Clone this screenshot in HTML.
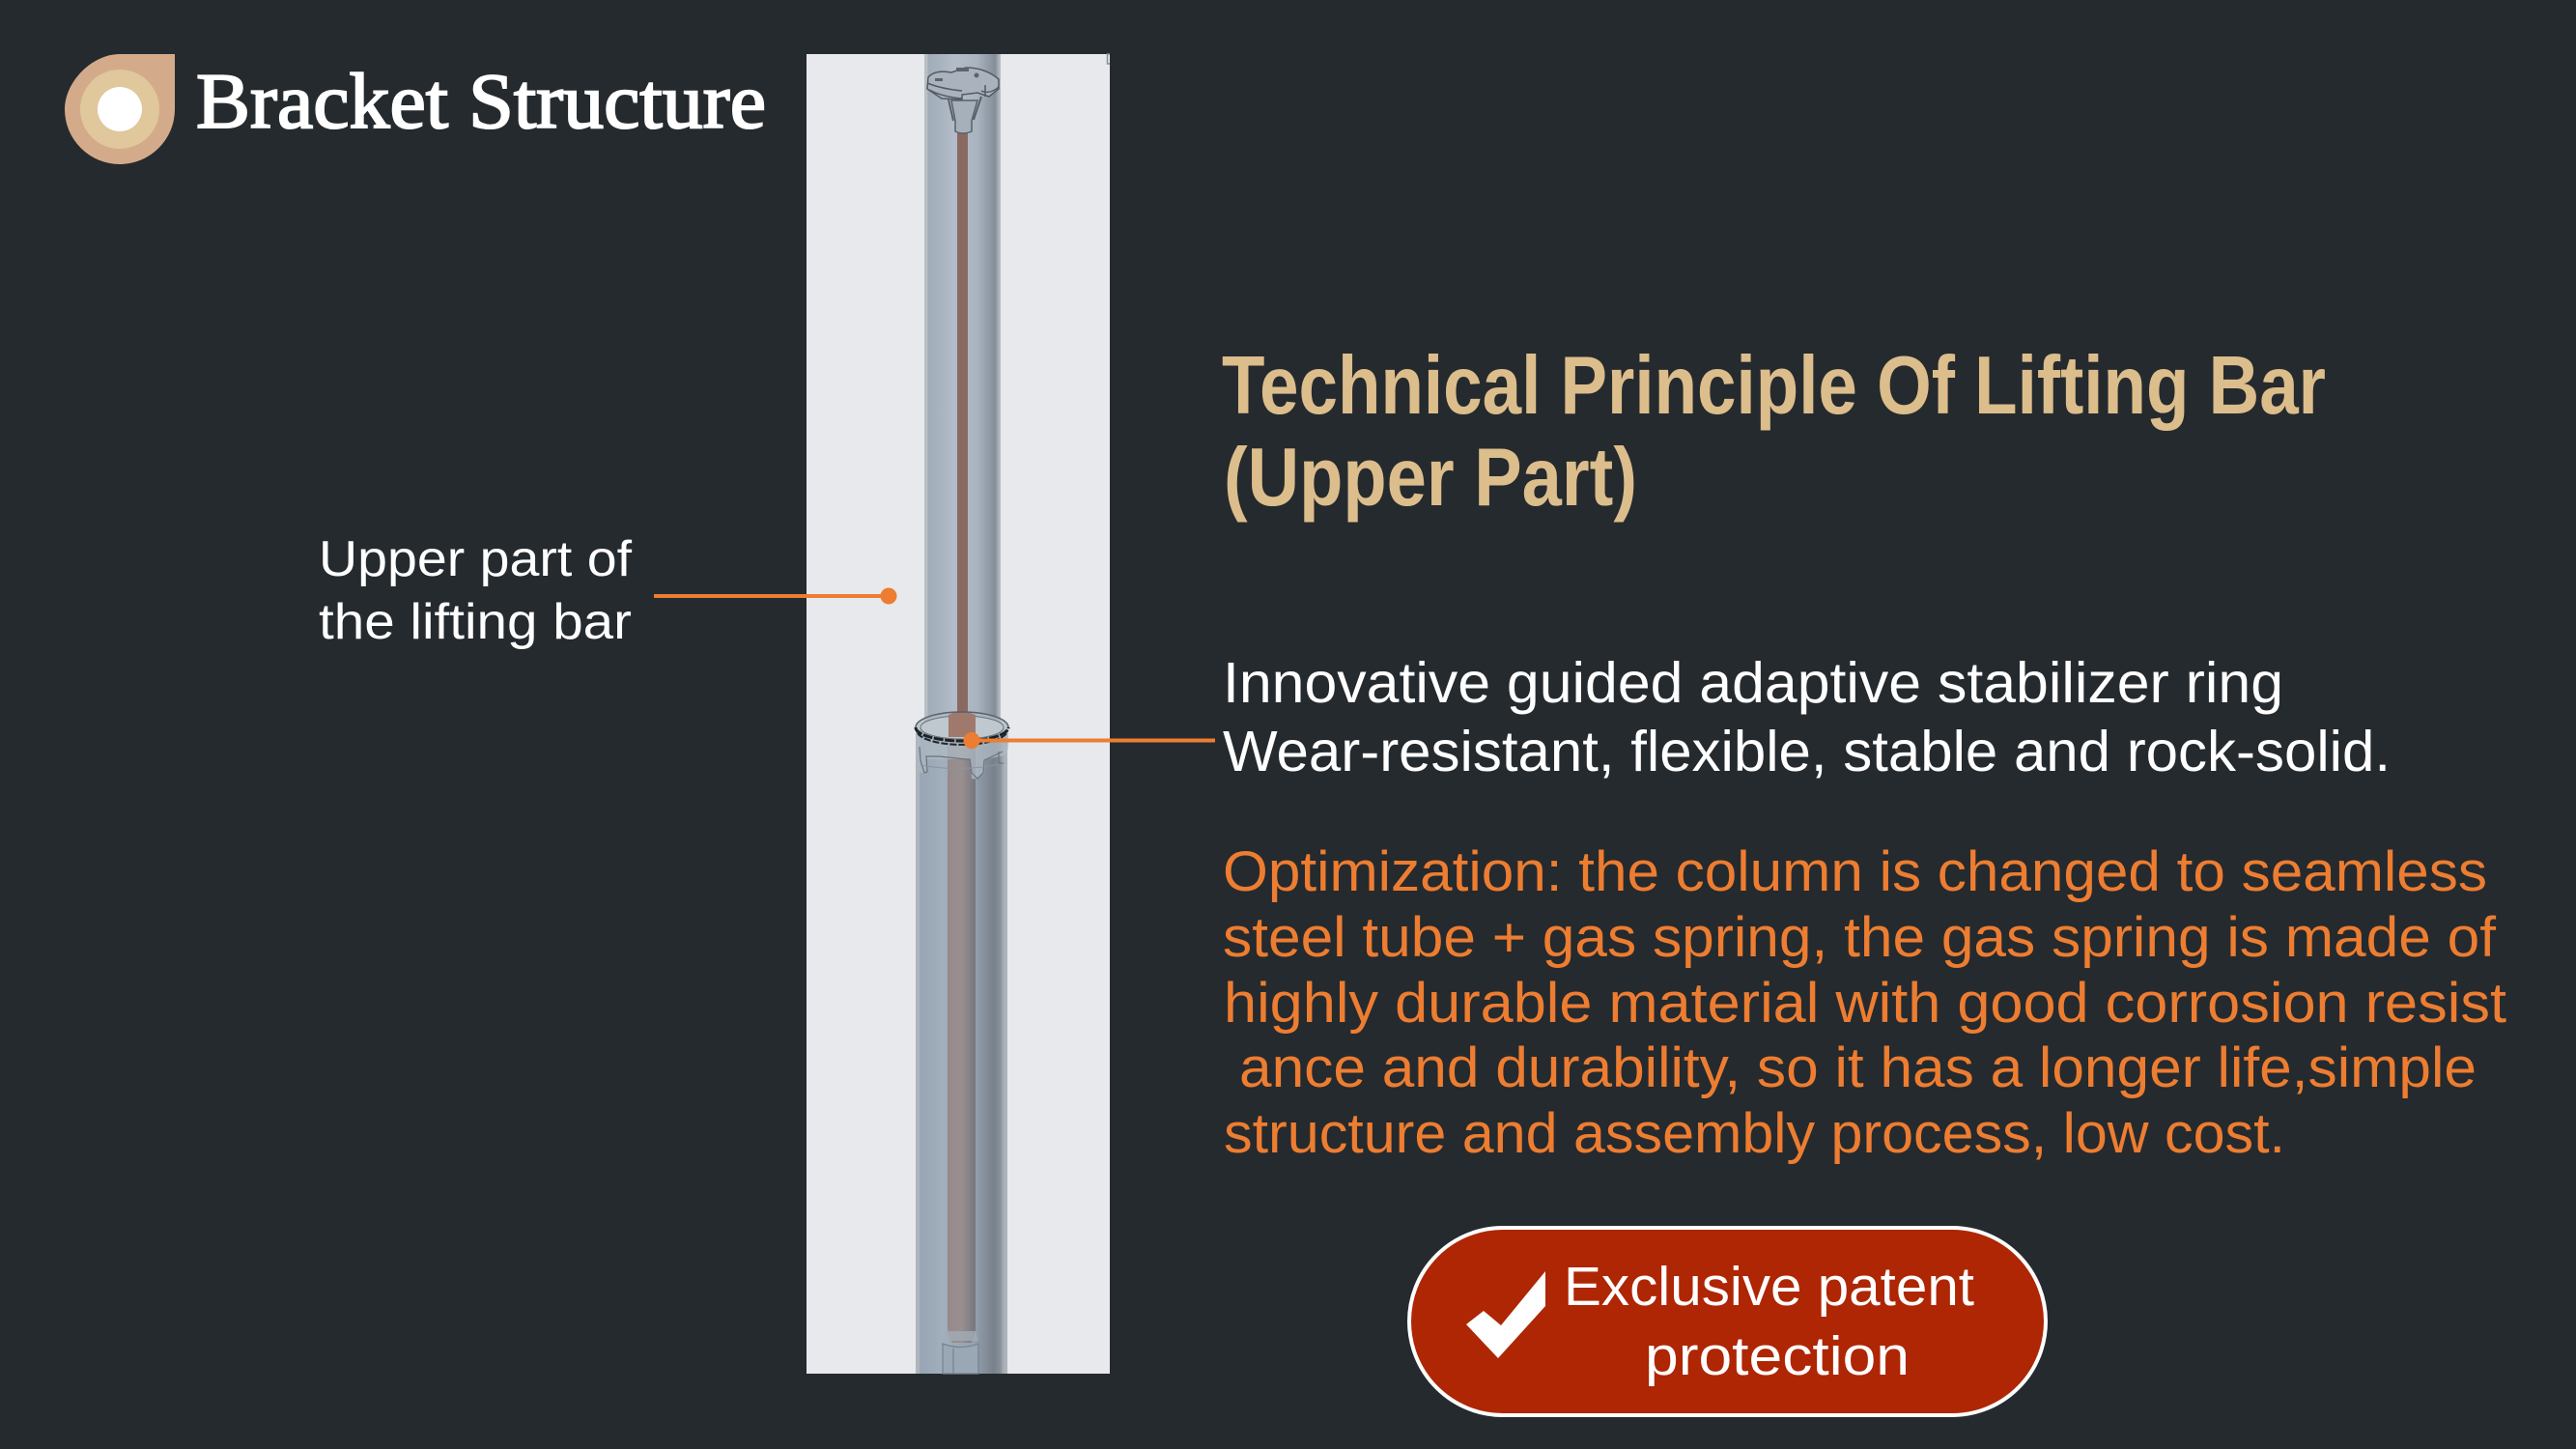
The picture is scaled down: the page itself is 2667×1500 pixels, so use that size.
<!DOCTYPE html>
<html><head><meta charset="utf-8"><style>html,body{margin:0;padding:0;background:#252a2e;width:2667px;height:1500px;overflow:hidden}svg{display:block}text{font-family:"Liberation Sans",sans-serif}</style></head>
<body>
<svg width="2667" height="1500" viewBox="0 0 2667 1500" xmlns="http://www.w3.org/2000/svg">
<defs>
<linearGradient id="u" x1="0" x2="1" y1="0" y2="0"><stop offset="0" stop-color="#b9bfc4"/><stop offset=".04" stop-color="#b9bfc4"/><stop offset=".05" stop-color="#a0acb8"/><stop offset=".4" stop-color="#b2bdc9"/><stop offset=".7" stop-color="#a9b3bf"/><stop offset=".93" stop-color="#848d98"/><stop offset=".96" stop-color="#a0a7af"/><stop offset="1" stop-color="#bcc1c6"/></linearGradient>
<linearGradient id="l" x1="0" x2="1" y1="0" y2="0"><stop offset="0" stop-color="#aeb5bb"/><stop offset=".04" stop-color="#aeb5bb"/><stop offset=".05" stop-color="#97a5b4"/><stop offset=".3" stop-color="#a2afbd"/><stop offset=".65" stop-color="#949fad"/><stop offset=".85" stop-color="#78808b"/><stop offset=".92" stop-color="#868f9a"/><stop offset=".96" stop-color="#a8afb5"/><stop offset="1" stop-color="#b0b6bb"/></linearGradient>
<linearGradient id="r" x1="0" x2="1" y1="0" y2="0"><stop offset="0" stop-color="#98898c"/><stop offset=".5" stop-color="#98908f"/><stop offset="1" stop-color="#777680"/></linearGradient>
</defs>
<rect width="2667" height="1500" fill="#252a2e"/>

<!-- logo -->
<path d="M124 56H181V113A57 57 0 0 1 67 113C67 85 95 56 124 56Z" fill="#d4ab8a"/>
<circle cx="124" cy="113" r="41" fill="#e0c79c"/>
<circle cx="124" cy="113" r="23" fill="#fff"/>
<text x="203" y="132" font-size="82" fill="#fff" stroke="#fff" stroke-width="2" style="font-family:'Liberation Serif',serif" textLength="590" lengthAdjust="spacingAndGlyphs">Bracket Structure</text>

<!-- panel -->
<rect x="835" y="56" width="314" height="1366" fill="#e7e9ed"/>
<path d="M1149 56H1146.500V66H1149" fill="none" stroke="#8a8f94" stroke-width="1.500"/>

<!-- upper tube -->
<rect x="957" y="56" width="79" height="700" fill="url(#u)"/>
<rect x="991" y="135" width="11" height="605" fill="#8a6a60"/>
<!-- head -->
<path d="M985 104L989 125V136Q997 140 1006 136V125L1012 104Z" fill="#a6b0bb" stroke="#59616a" stroke-width="1.500"/>
<path d="M982 103L987 125M1016 100L1008 124" stroke="#59616a" stroke-width="2" fill="none"/>
<path d="M961 80Q968 72 985 75L1000 70Q1020 70 1034 82V92L1024 100L1012 96L996 98V103L975 102L960 92Z" fill="#aab3bd" stroke="#535a63" stroke-width="1.500"/>
<path d="M960 86Q975 92 996 94M962 93Q975 100 996 102M1016 94Q1025 98 1034 90M1020 88V100" stroke="#535a63" stroke-width="1.500" fill="none"/>
<rect x="968" y="81" width="8" height="3" fill="#5d646c"/>
<rect x="990" y="70" width="13" height="4" fill="#5d646c"/>
<circle cx="1011" cy="78" r="2.500" fill="#5d646c"/>

<!-- lower tube -->
<rect x="948" y="755" width="95" height="667" fill="url(#l)"/>
<path d="M981 745H1010V1375Q1010 1385 1005 1390H986Q981 1385 981 1375Z" fill="url(#r)"/>
<!-- bottom fitting -->
<path d="M976 1391Q995 1398 1013 1391V1422H976Z" fill="#9aa8b6" stroke="#76828f" stroke-width="1.200"/>
<path d="M987 1396V1422" stroke="#76828f" stroke-width="1.200"/>
<path d="M979 1378L976 1388H1013L1010 1378" fill="#a3acb5" opacity=".8"/>

<!-- collar -->
<path d="M948 753A48 16 0 0 1 1044 753V768Q1044 780 1040 782L1020 786L1019 800Q1012 808 1006 806L1004 786H960V800L952 800L948 775Z" fill="#aeb9c3" opacity=".75"/>
<ellipse cx="996" cy="753" rx="43" ry="12" fill="#bfc7cf" stroke="#6a7179" stroke-width="1"/>
<path d="M989 737H1002L1010 740V763H982V740Z" fill="#9f7a6c"/>
<path d="M948 753A48 14 0 0 0 1044 753" fill="none" stroke="#1e2126" stroke-width="3" stroke-dasharray="10 1.500"/>
<path d="M950 759A47 15 0 0 0 1042 759" fill="none" stroke="#22262b" stroke-width="2" stroke-dasharray="7 2"/>
<path d="M948 753A48 16 0 0 1 1044 753" fill="none" stroke="#59606a" stroke-width="1.500"/>
<polyline points="952,773 953,787 957,800 960,799 959,783 972,783 1000,786 1004,786 1006,800 1012,806 1018,800 1019,787 1038,778" fill="none" stroke="#6b737c" stroke-width="1.200"/>
<path d="M953 792Q995 800 1040 790" fill="none" stroke="#8a949e" stroke-width="1"/>
<path d="M1034 778V790L1038 790" fill="none" stroke="#6b737c" stroke-width="1.200"/>

<!-- connectors -->
<line x1="677" y1="617" x2="921" y2="617" stroke="#ed7d31" stroke-width="4"/>
<circle cx="920" cy="617" r="8.500" fill="#ed7d31"/>
<line x1="1007" y1="766.500" x2="1258" y2="766.500" stroke="#ed7d31" stroke-width="4"/>
<circle cx="1006" cy="766.500" r="8.500" fill="#ed7d31"/>

<!-- left label -->
<g fill="#fff" font-size="52">
<text x="330" y="596" textLength="324" lengthAdjust="spacingAndGlyphs">Upper part of</text>
<text x="330" y="661" textLength="324" lengthAdjust="spacingAndGlyphs">the lifting bar</text>
</g>

<!-- heading -->
<g fill="#dcbd8c" font-size="85" font-weight="700">
<text x="1265" y="428" textLength="1143" lengthAdjust="spacingAndGlyphs">Technical Principle Of Lifting Bar</text>
<text x="1267" y="523" textLength="428" lengthAdjust="spacingAndGlyphs">(Upper Part)</text>
</g>

<!-- white body -->
<g fill="#fff" font-size="59">
<text x="1266" y="727" textLength="1098" lengthAdjust="spacingAndGlyphs">Innovative guided adaptive stabilizer ring</text>
<text x="1266" y="798" textLength="1209" lengthAdjust="spacingAndGlyphs">Wear-resistant, flexible, stable and rock-solid.</text>
</g>

<!-- orange body -->
<g fill="#ed7d31" font-size="58">
<text x="1266" y="922" textLength="1309" lengthAdjust="spacingAndGlyphs">Optimization: the column is changed to seamless</text>
<text x="1266" y="990" textLength="1318" lengthAdjust="spacingAndGlyphs">steel tube + gas spring, the gas spring is made of</text>
<text x="1267" y="1058" textLength="1328" lengthAdjust="spacingAndGlyphs">highly durable material with good corrosion resist</text>
<text x="1283" y="1125" textLength="1281" lengthAdjust="spacingAndGlyphs">ance and durability, so it has a longer life,simple</text>
<text x="1267" y="1193" textLength="1099" lengthAdjust="spacingAndGlyphs">structure and assembly process, low cost.</text>
</g>

<!-- badge -->
<rect x="1459" y="1271" width="659" height="194" rx="97" ry="97" fill="#ae2604" stroke="#fff" stroke-width="4"/>
<path d="M1518 1371L1536 1357L1554 1372L1600 1316V1352L1551 1406Z" fill="#fff"/>
<g fill="#fff" font-size="57">
<text x="1619" y="1351" textLength="425" lengthAdjust="spacingAndGlyphs">Exclusive patent</text>
<text x="1703" y="1423" textLength="274" lengthAdjust="spacingAndGlyphs">protection</text>
</g>
</svg>
</body></html>
